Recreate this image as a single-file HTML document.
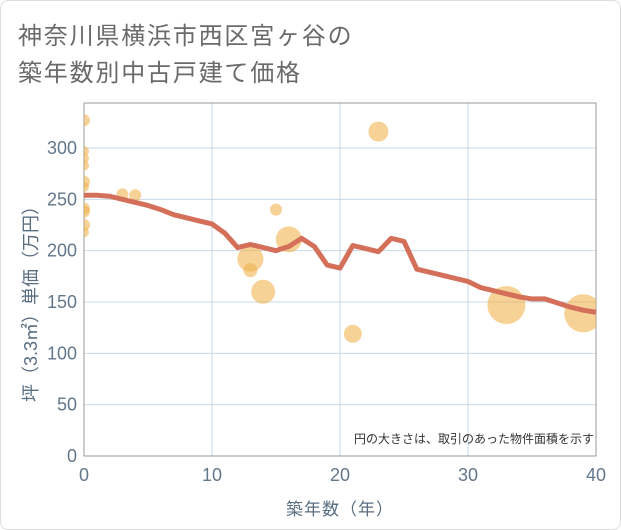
<!DOCTYPE html>
<html><head><meta charset="utf-8"><style>
body{margin:0;background:#fff;}
#wrap{position:relative;width:619px;height:528px;border:1px solid #ddd;border-radius:8px;overflow:hidden;font-family:"Liberation Sans","Noto Sans CJK JP",sans-serif;}
.t{position:absolute;left:17px;font-size:24px;letter-spacing:1.8px;color:#6a6a6a;white-space:nowrap;}
</style></head><body>
<div id="wrap">
<div class="t" style="top:15px">神奈川県横浜市西区宮ヶ谷の</div>
<div class="t" style="top:52px">築年数別中古戸建て価格</div>
<svg id="chart" width="621" height="530" style="position:absolute;left:-1px;top:-1px"></svg>
</div>
<script>
const lineYears=[0,1,2,3,4,5,6,7,8,9,10,11,12,13,14,15,16,17,18,19,20,21,22,23,24,25,26,27,28,29,30,31,32,33,34,35,36,37,38,39,40];
const lineValues=[254,254,253,250,247,244,240,235,232,229,226,217,203,206,203,200,204,212,204,186,183,205,202,199,212,209,182,179,176,173,170,164,161,158,155,153,153,149,145,142,140];
const bubbleYears=[0,0,0,0,0,0,0,0,0,0,3,4,15,13,13,14,16,21,23,33,39];
const bubbleValues=[327,297,290,283,267,262,241,238,225,218,255,254,240,192,181,160,211,119,316,147,139];
const bubbleSizes=[6,5,5,5,6,5,6,6,6,5,6,6,6,13,7,12,13,9,10,19,19];
const xTicks=[0,10,20,30,40];
const yTicks=[0,50,100,150,200,250,300];
const L=84,R=596,T=103,B=456;
const xs=v=>L+v*(R-L)/40;
const ys=v=>B-v*1.0267;
const svg=document.getElementById('chart');
const NS='http://www.w3.org/2000/svg';
function mk(t,a){const e=document.createElementNS(NS,t);for(const k in a)e.setAttribute(k,a[k]);svg.appendChild(e);return e;}
const defs=mk('defs',{});
const cp=document.createElementNS(NS,'clipPath');cp.setAttribute('id','clip');
const cr=document.createElementNS(NS,'rect');cr.setAttribute('x',L);cr.setAttribute('y',T);cr.setAttribute('width',R-L);cr.setAttribute('height',B-T);
cp.appendChild(cr);defs.appendChild(cp);
yTicks.forEach(v=>{
 const g=mk('line',{x1:L,x2:R,y1:ys(v),y2:ys(v),stroke:'#c8d8e8','stroke-width':1});
 
 
 const t=mk('text',{x:L-7,y:ys(v)+6,'text-anchor':'end','font-size':18,fill:'#63778b'});
 t.textContent=v;
 
 
});
xTicks.forEach(v=>{
 const g=mk('line',{x1:xs(v),x2:xs(v),y1:T,y2:B,stroke:'#c8d8e8','stroke-width':1});
 
 
 const t=mk('text',{x:xs(v),y:B+25,'text-anchor':'middle','font-size':18,fill:'#63778b'});
 t.textContent=v;
 
 
});
const ax=mk('path',{d:`M${L},${T}V${B}H${R}V${T}H${L}`,fill:'none',stroke:'#999','stroke-width':1});


const bg=mk('g',{'clip-path':'url(#clip)'});
bubbleYears.forEach((y,i)=>{
 const c=document.createElementNS(NS,'circle');
 c.setAttribute('cx',xs(y));c.setAttribute('cy',ys(bubbleValues[i]));c.setAttribute('r',bubbleSizes[i]);
 c.setAttribute('fill','rgba(240,180,80,0.6)');
 
 
 bg.appendChild(c);
});
const pl=mk('polyline',{points:lineYears.map((y,i)=>xs(y)+','+ys(lineValues[i])).join(' '),fill:'none',stroke:'#d4705a','stroke-width':5,'stroke-linejoin':'round'});


const note=mk('text',{x:R-2,y:443,'text-anchor':'end','font-size':12,fill:'#333'});
note.textContent='円の大きさは、取引のあった物件面積を示す';


const xt=mk('text',{x:(L+R)/2,y:515,'text-anchor':'middle','font-size':17,fill:'#5a6e82','letter-spacing':1});
xt.textContent='築年数（年）';


const yt=mk('text',{x:0,y:0,'text-anchor':'middle','font-size':18,fill:'#5a6e82',transform:`translate(37,${(T+B)/2+20}) rotate(-90)`});
yt.textContent='坪（3.3㎡）単価（万円）';


</script>
</body></html>
